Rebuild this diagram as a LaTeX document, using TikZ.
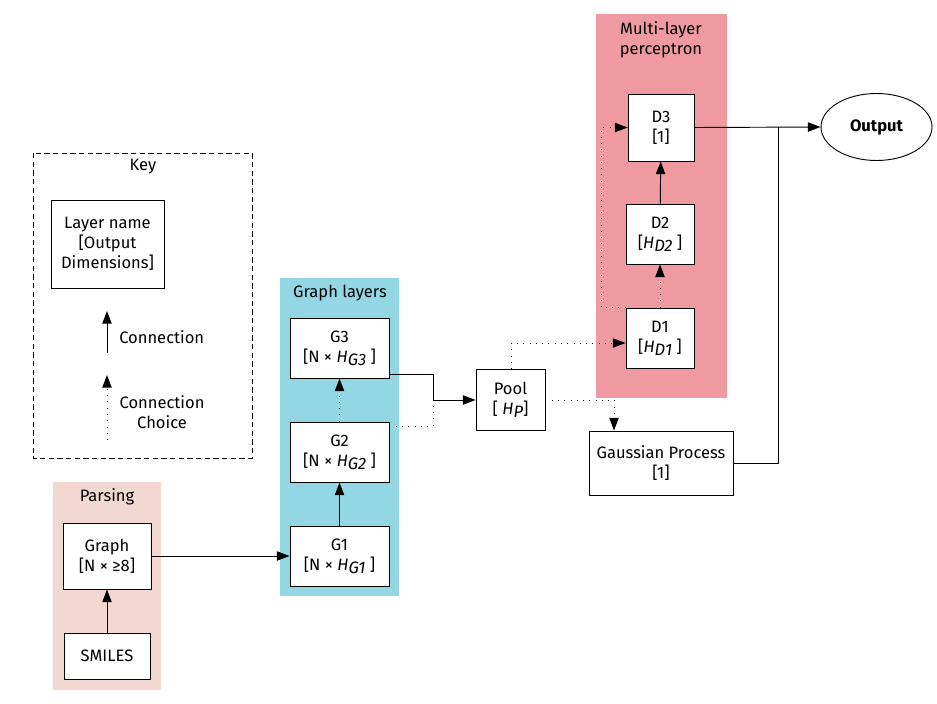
\documentclass[tikz,border=0pt]{standalone}
\usepackage{fontspec}
\setmainfont{Fira Sans}
\usetikzlibrary{arrows.meta,shapes.geometric}
\definecolor{parsebg}{HTML}{F3D8D2}
\definecolor{graphbg}{HTML}{93D7E4}
\definecolor{mlpbg}{HTML}{EF9AA0}
\newcommand{\Hsub}[1]{\textit{H}\raisebox{-0.35ex}{\textit{#1}}}
\tikzset{
  layer/.style={draw, fill=white, line width=0.7pt, align=center, inner sep=0pt},
  tiptri/.style={-{Triangle[length=9.5pt,width=7pt]}},
  conn/.style={line width=0.7pt, tiptri},
  plainline/.style={line width=0.7pt},
  choice/.style={line width=0.7pt, dash pattern=on 0.7pt off 4pt},
  choicearrow/.style={choice, tiptri},
  grouptitle/.style={align=center, inner sep=0pt},
}
\begin{document}
\begin{tikzpicture}[x=0.75pt, y=-0.75pt, font=\fontsize{12.4}{15}\selectfont]
\useasboundingbox (0,0) rectangle (937,703);

% group backgrounds
\fill[parsebg] (53,482) rectangle (161,690);
\fill[graphbg] (280,278) rectangle (399,596);
\fill[mlpbg] (596,14) rectangle (727,398);
\node[grouptitle] (tparse) at (107,497) {Parsing};
\node[grouptitle] (tgraph) at (340,293) {Graph layers};
\node[grouptitle] (tmlp) at (661,40) {Multi-layer\\perceptron};

% key
\draw[line width=0.7pt, dash pattern=on 4pt off 2.5pt] (33,153) rectangle (252,458);
\node[grouptitle] (tkey) at (143,167) {Key};
\node[layer, minimum width=113*0.75pt, minimum height=88*0.75pt] (klayer) at (107.5,244) {Layer name\\{}[Output\\Dimensions]};
\coordinate (kca) at (107,353);
\coordinate (kcb) at (107,311);
\draw[conn] (kca) -- (kcb);
\node[anchor=west, inner sep=0pt] (kconn) at (119,337) {Connection};
\coordinate (kda) at (107,440);
\coordinate (kdb) at (107,375);
\draw[choicearrow] (kda) -- (kdb);
\node[align=center, inner sep=0pt] (kchoice) at (162,412) {Connection\\Choice};

% parsing
\node[layer, minimum width=88*0.75pt, minimum height=66*0.75pt] (graph) at (107,556) {Graph\\{}[N × ≥8]};
\node[layer, minimum width=86*0.75pt, minimum height=46*0.75pt] (smiles) at (107,656) {SMILES};

% graph layers
\node[layer, minimum width=99*0.75pt, minimum height=60*0.75pt] (g3) at (339.5,348) {G3\\{}[N × \Hsub{G3} ]};
\node[layer, minimum width=99*0.75pt, minimum height=60*0.75pt] (g2) at (339.5,452) {G2\\{}[N × \Hsub{G2} ]};
\node[layer, minimum width=99*0.75pt, minimum height=60*0.75pt] (g1) at (339.5,556) {G1\\{}[N × \Hsub{G1} ]};

% pooling and heads
\node[layer, minimum width=69*0.75pt, minimum height=61*0.75pt] (pool) at (510.5,400) {Pool\\{}[ \Hsub{P}]};
\node[layer, minimum width=144*0.75pt, minimum height=64*0.75pt] (gp) at (661,463) {Gaussian Process\\{}[1]};
\node[layer, minimum width=66*0.75pt, minimum height=67*0.75pt] (d3) at (661,127.5) {D3\\{}[1]};
\node[layer, minimum width=68*0.75pt, minimum height=60*0.75pt] (d2) at (660,234) {D2\\{}[\Hsub{D2} ]};
\node[layer, minimum width=68*0.75pt, minimum height=60*0.75pt] (d1) at (660,338) {D1\\{}[\Hsub{D1} ]};
\node[draw, ellipse, line width=0.7pt, minimum width=111*0.75pt, minimum height=67*0.75pt, inner sep=0pt, font=\fontsize{12.4}{15}\selectfont\bfseries] (out) at (876.5,127) {Output};

% junction points
\coordinate (mpool) at (433,400);
\coordinate (dleft) at (601,0);
\coordinate (jout) at (778,127);

% connections
\draw[conn] (smiles) -- (graph);
\draw[conn] (graph) -- (g1);
\draw[conn] (g1) -- (g2);
\draw[choicearrow] (g2) -- (g3);
\draw[conn] ([yshift=-19.5pt]g3.east) -| (mpool) -- (pool.west);
\draw[choice] ([yshift=19.5pt]g2.east) -| (mpool);
\draw[choicearrow] ([xshift=1pt]pool.north) |- ([yshift=-3.75pt]d1.west);
\draw[choicearrow] (pool.east) -| ([xshift=-35.25pt]gp.north);
\draw[choicearrow] (d1) -- (d2);
\draw[conn] (d2) -- (d3);
\draw[choicearrow] (d1.north west) -| (dleft |- d3.west) -- (d3.west);
\draw[conn] (d3.east) -- (out.west);
\draw[plainline] (gp.east) -| (jout);
\end{tikzpicture}
\end{document}
